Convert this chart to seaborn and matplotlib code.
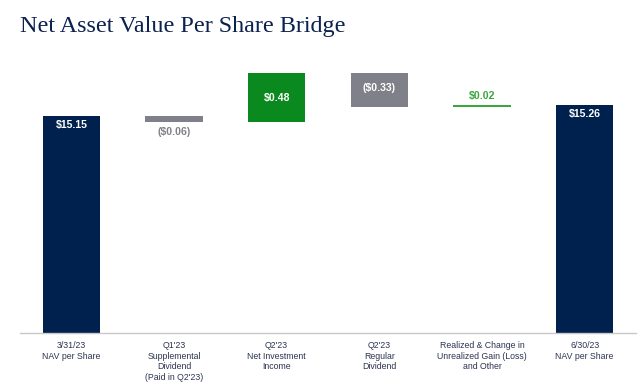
import numpy as np
import pandas as pd
import seaborn as sns
import matplotlib.pyplot as plt

# data
categories = [
    "3/31/23\nNAV per Share",
    "Q1'23\nSupplemental\nDividend\n(Paid in Q2'23)",
    "Q2'23\nNet Investment\nIncome",
    "Q2'23\nRegular\nDividend",
    "Realized & Change in\nUnrealized Gain (Loss)\nand Other",
    "6/30/23\nNAV per Share",
]
changes = [15.15, -0.06, 0.48, -0.33, 0.02, 15.26]
kinds = ["total", "change", "change", "change", "change", "total"]
value_labels = ["$15.15", "($0.06)", "$0.48", "($0.33)", "$0.02", "$15.26"]

# running waterfall positions
bottoms, heights = [], []
level = 0.0
for v, k in zip(changes, kinds):
    if k == "total":
        bottoms.append(0.0)
        heights.append(v)
        level = v
    else:
        new = level + v
        bottoms.append(min(level, new))
        heights.append(abs(v))
        level = new

df = pd.DataFrame({"category": categories, "height": heights, "bottom": bottoms})

navy = "#00214e"
green = "#0a8a1e"
gray = "#80808a"
light_green = "#3aa63e"
colors = [navy, gray, green, gray, light_green, navy]

sns.set_theme(style="white")
plt.rcParams["font.family"] = ["Liberation Sans", "DejaVu Sans"]

fig = plt.figure(figsize=(6.4, 3.87), dpi=100)
ax = fig.add_axes([0.03125, 0.1395, 0.9625, 0.7055])

sns.barplot(data=df, x="category", y="height", bottom=df["bottom"].values,
            width=0.56, color=navy, ax=ax, linewidth=0)
for patch, c in zip(ax.patches, colors):
    patch.set_facecolor(c)
    patch.set_edgecolor("none")
# thin line for the small change
ax.patches[4].set_height(0.02)

ax.set_ylim(13.03, 15.70)
ax.set_xlim(-0.5, 5.5)
ax.set_yticks([])
ax.set_xlabel("")
ax.set_ylabel("")
for s in ["top", "right", "left"]:
    ax.spines[s].set_visible(False)
ax.spines["bottom"].set_color("#c8c8c8")
ax.spines["bottom"].set_linewidth(1.0)
ax.tick_params(axis="x", length=0, pad=6)
ax.set_xticklabels(categories, fontsize=6.3, color="#2c3550", linespacing=1.2, va="top")

# value labels
lab_kw = dict(ha="center", fontsize=7.6, fontweight="bold")
ax.text(0, 15.15 - 0.09, value_labels[0], va="center", color="white", **lab_kw)
ax.text(1, bottoms[1] - 0.09, value_labels[1], va="center", color="#808088", **lab_kw)
ax.text(2, bottoms[2] + heights[2] / 2, value_labels[2], va="center", color="white", **lab_kw)
ax.text(3, bottoms[3] + heights[3] / 2 + 0.02, value_labels[3], va="center", color="white", **lab_kw)
ax.text(4, bottoms[4] + 0.11, value_labels[4], va="center", color=light_green, **lab_kw)
ax.text(5, 15.26 - 0.09, value_labels[5], va="center", color="white", **lab_kw)

fig.text(0.031, 0.917, "Net Asset Value Per Share Bridge", fontsize=17.4,
         family="Liberation Serif", color="#0b2150", va="baseline", ha="left")

fig.savefig("out.png", dpi=100)
